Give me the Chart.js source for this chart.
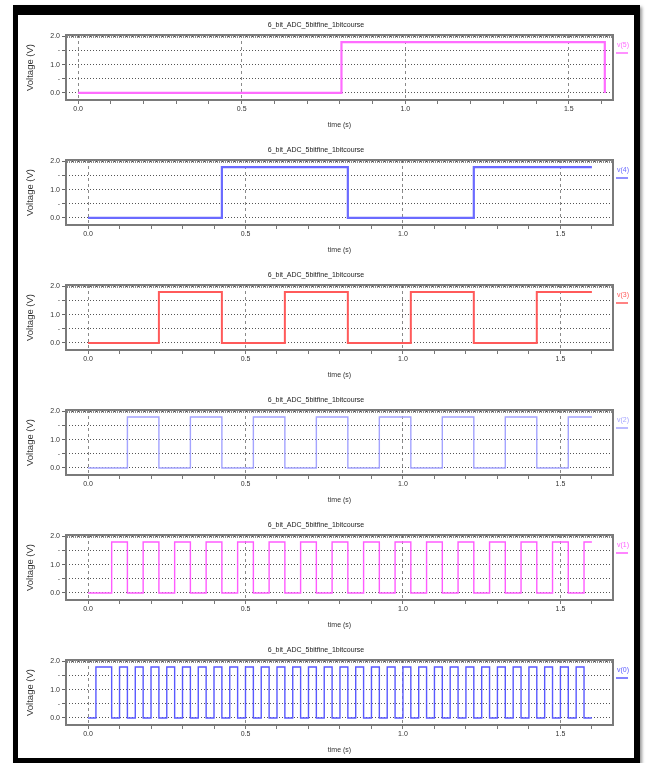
<!DOCTYPE html>
<html><head><meta charset="utf-8">
<script src="https://cdn.jsdelivr.net/npm/chart.js@4"></script>
<style>
html,body{margin:0;padding:0;background:#fff;width:646px;height:763px;overflow:hidden}
#frame{position:absolute;left:13px;top:5px;width:616px;height:743px;border-style:solid;border-color:#000;border-width:10px 6px 5px 5px;box-shadow:2px 2px 3px #999}
.p{position:absolute;left:19px;width:614px;height:120px}
</style></head>
<body>
<div id="frame"></div>
<div class="p" style="top:14px"><canvas id="c0" width="614" height="120"></canvas></div>
<div class="p" style="top:139px"><canvas id="c1" width="614" height="120"></canvas></div>
<div class="p" style="top:264px"><canvas id="c2" width="614" height="120"></canvas></div>
<div class="p" style="top:389px"><canvas id="c3" width="614" height="120"></canvas></div>
<div class="p" style="top:514px"><canvas id="c4" width="614" height="120"></canvas></div>
<div class="p" style="top:639px"><canvas id="c5" width="614" height="120"></canvas></div>
<script>
// ---- data ----
const TITLE = "6_bit_ADC_5bitfine_1bitcourse";
const X_TITLE = "time (s)";
const Y_TITLE = "Voltage (V)";
const SERIES_LABELS = ["v(5)", "v(4)", "v(3)", "v(2)", "v(1)", "v(0)"];
const X_TICKS = [0,0.1,0.2,0.3,0.4,0.5,0.6,0.7,0.8,0.9,1.0,1.1,1.2,1.3,1.4,1.5,1.6];
const X_MAJOR = [0,0.5,1.0,1.5];
const Y_TICKS = [0,0.5,1.0,1.5,2.0];
const Y_LABELED = [0,1.0,2.0];
const VHIGH = 1.8;

// edge times (s) and logic levels after each edge
const bit5T = [0, 0.805, 1.61];
const bit5L = [0, 1, 0];
const bit4T = [0, 0.425, 0.825, 1.225, 1.6];
const bit4L = [0, 1, 0, 1, 1];
const bit3T = [0, 0.225, 0.425, 0.625, 0.825, 1.025, 1.225, 1.425, 1.6];
const bit3L = [0, 1, 0, 1, 0, 1, 0, 1, 1];
const bit2T = [0,0.125,0.225,0.325,0.425,0.525,0.625,0.725,0.825,0.925,1.025,1.125,1.225,1.325,1.425,1.525,1.6];
const bit2L = [0,1,0,1,0,1,0,1,0,1,0,1,0,1,0,1,1];
const bit1T = [0,0.075,0.125,0.175,0.225,0.275,0.325,0.375,0.425,0.475,0.525,0.575,0.625,0.675,0.725,0.775,0.825,0.875,0.925,0.975,1.025,1.075,1.125,1.175,1.225,1.275,1.325,1.375,1.425,1.475,1.525,1.575,1.6];
const bit1L = [0,1,0,1,0,1,0,1,0,1,0,1,0,1,0,1,0,1,0,1,0,1,0,1,0,1,0,1,0,1,0,1,1];
const bit0T = [0,0.025,0.075,0.1,0.125,0.15,0.175,0.2,0.225,0.25,0.275,0.3,0.325,0.35,0.375,0.4,0.425,0.45,0.475,0.5,0.525,0.55,0.575,0.6,0.625,0.65,0.675,0.7,0.725,0.75,0.775,0.8,0.825,0.85,0.875,0.9,0.925,0.95,0.975,1.0,1.025,1.05,1.075,1.1,1.125,1.15,1.175,1.2,1.225,1.25,1.275,1.3,1.325,1.35,1.375,1.4,1.425,1.45,1.475,1.5,1.525,1.55,1.575,1.6];
const bit0L = [0,1,0,1,0,1,0,1,0,1,0,1,0,1,0,1,0,1,0,1,0,1,0,1,0,1,0,1,0,1,0,1,0,1,0,1,0,1,0,1,0,1,0,1,0,1,0,1,0,1,0,1,0,1,0,1,0,1,0,1,0,1,0,0];

// ---- styling ----
const FONT = '"Liberation Sans Narrow","Liberation Sans",Arial,sans-serif';
const panels = [
  {id:'c0', t:bit5T, l:bit5L, color:'#ff6cff', lw:2.2, xr:[-0.037,1.635]},
  {id:'c1', t:bit4T, l:bit4L, color:'#6b6bff', lw:2.2, xr:[-0.07,1.667]},
  {id:'c2', t:bit3T, l:bit3L, color:'#ff5a5a', lw:2.0, xr:[-0.07,1.667]},
  {id:'c3', t:bit2T, l:bit2L, color:'#a4a4ff', lw:1.4, xr:[-0.07,1.667]},
  {id:'c4', t:bit1T, l:bit1L, color:'#ff5cff', lw:1.4, xr:[-0.07,1.667]},
  {id:'c5', t:bit0T, l:bit0L, color:'#5a5aff', lw:1.4, xr:[-0.07,1.667]},
];

const boxPlugin = {
  id:'boxPlugin',
  beforeDatasetsDraw(chart){
    const a = chart.chartArea, c = chart.ctx;
    c.save();
    c.strokeStyle = '#7a7a7a'; c.lineWidth = 2;
    c.strokeRect(a.left, a.top, a.right - a.left, a.bottom - a.top);
    c.strokeStyle = '#888'; c.lineWidth = 1;
    c.beginPath();
    for (let x = a.left + 1; x < a.right; x += 2) { c.moveTo(x + 0.5, a.top); c.lineTo(x + 0.5, a.top + 3); }
    c.stroke();
    c.restore();
  },
  afterDraw(chart, args, opts){
    const a = chart.chartArea, c = chart.ctx;
    c.save();
    c.font = '7px ' + FONT;
    c.fillStyle = opts.color; c.textAlign = 'left'; c.textBaseline = 'middle';
    c.fillText(opts.label, a.right + 4, a.top + 10);
    c.strokeStyle = opts.color; c.lineWidth = 1.5;
    c.beginPath(); c.moveTo(a.right + 3, a.top + 18); c.lineTo(a.right + 15, a.top + 18); c.stroke();
    c.restore();
  }
};

panels.forEach((p, i) => {
  const data = p.t.map((t, k) => ({x: t, y: p.l[k] * VHIGH}));
  new Chart(document.getElementById(p.id), {
    type: 'line',
    data: {datasets: [{label: SERIES_LABELS[i], data, borderColor: p.color, borderWidth: p.lw, stepped: 'before', pointRadius: 0, fill: false}]},
    plugins: [boxPlugin],
    options: {
      responsive: false, animation: false,
      layout: {padding: {left: 0, right: 20, top: 0, bottom: 0}},
      plugins: {
        legend: {display: false}, tooltip: {enabled: false},
        title: {display: true, text: TITLE, color: '#222', font: {family: FONT, size: 7, weight: 'normal'}, padding: {top: 6.8, bottom: 5.8}},
        boxPlugin: {label: SERIES_LABELS[i], color: p.color}
      },
      scales: {
        x: {
          type: 'linear', min: p.xr[0], max: p.xr[1],
          afterFit(s){ s.height = 34; },
          afterBuildTicks(s){ s.ticks = X_TICKS.map(v => ({value: v})); },
          ticks: {autoSkip: false, maxRotation: 0, padding: 1, color: '#333', font: {family: FONT, size: 7},
            callback: v => X_MAJOR.some(m => Math.abs(m - v) < 1e-6) ? v.toFixed(1) : ''},
          grid: {color: ctx => (ctx.tick && X_MAJOR.some(m => Math.abs(m - ctx.tick.value) < 1e-6)) ? '#8a8a8a' : 'rgba(0,0,0,0)',
                 tickColor: '#777', tickLength: 4, lineWidth: 1},
          border: {display: false, dash: [3, 3]},
          title: {display: true, text: X_TITLE, color: '#333', font: {family: FONT, size: 7}, padding: {top: 0, bottom: 4.8}}
        },
        y: {
          min: -0.25, max: 2.05,
          afterFit(s){ s.width = 47; },
          afterBuildTicks(s){ s.ticks = Y_TICKS.map(v => ({value: v})); },
          ticks: {autoSkip: false, padding: 2, color: '#333', font: {family: FONT, size: 7},
            callback: v => Y_LABELED.some(m => Math.abs(m - v) < 1e-6) ? v.toFixed(1) : '-'},
          grid: {color: '#555', tickColor: '#666', tickLength: 4, lineWidth: 1},
          border: {display: false, dash: [1, 2]},
          title: {display: true, text: Y_TITLE, color: '#333', font: {family: '"Liberation Sans",Arial,sans-serif', size: 9.5}, padding: {top: 5.5, bottom: 0}}
        }
      }
    }
  });
});
</script>
</body></html>
